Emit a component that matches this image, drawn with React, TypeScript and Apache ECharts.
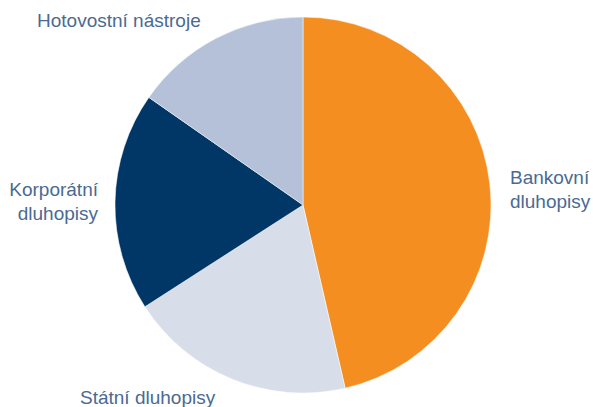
import React, { useEffect, useRef } from "react";
import * as echarts from "echarts";

const categories = ["Bankovní dluhopisy", "Státní dluhopisy", "Korporátní dluhopisy", "Hotovostní nástroje"];
const labelTexts = ["Bankovní\ndluhopisy", "Státní dluhopisy", "Korporátní\ndluhopisy", "Hotovostní nástroje"];
const values = [46.4, 19.5, 18.8, 15.3];
const colors = ["#F58E21", "#D7DEEA", "#003767", "#B5C1D8"];

const labelPlaces = [
  { x: 510, y: 189, align: "left" },
  { x: 80, y: 397, align: "left" },
  { x: 98, y: 201, align: "right" },
  { x: 37, y: 20, align: "left" },
];

export default function App() {
  const ref = useRef<HTMLDivElement>(null);
  useEffect(() => {
    if (!ref.current) return;
    const chart = echarts.init(ref.current, undefined, { renderer: "svg" });
    chart.setOption({
      animation: false,
      series: [
        {
          type: "pie",
          center: [303, 205],
          radius: 188,
          startAngle: 90,
          clockwise: true,
          data: categories.map((name, i) => ({
            name,
            value: values[i],
            itemStyle: { color: colors[i] },
            label: { formatter: labelTexts[i] },
          })),
          itemStyle: { borderColor: "#ffffff", borderWidth: 0.5 },
          label: {
            show: true,
            position: "outside",
            color: "#4A6A93",
            fontFamily: "Liberation Sans, Arial, sans-serif",
            fontSize: 19,
            lineHeight: 24,
            overflow: "none",
          },
          labelLine: { show: false },
          labelLayout: (params: any) => {
            const p = labelPlaces[params.dataIndex];
            return { x: p.x, y: p.y, align: p.align, verticalAlign: "middle" };
          },
          emphasis: { disabled: true },
        },
      ],
    });
    return () => chart.dispose();
  }, []);
  return <div ref={ref} style={{ position: "absolute", left: 0, top: 0, width: 593, height: 407 }} />;
}
